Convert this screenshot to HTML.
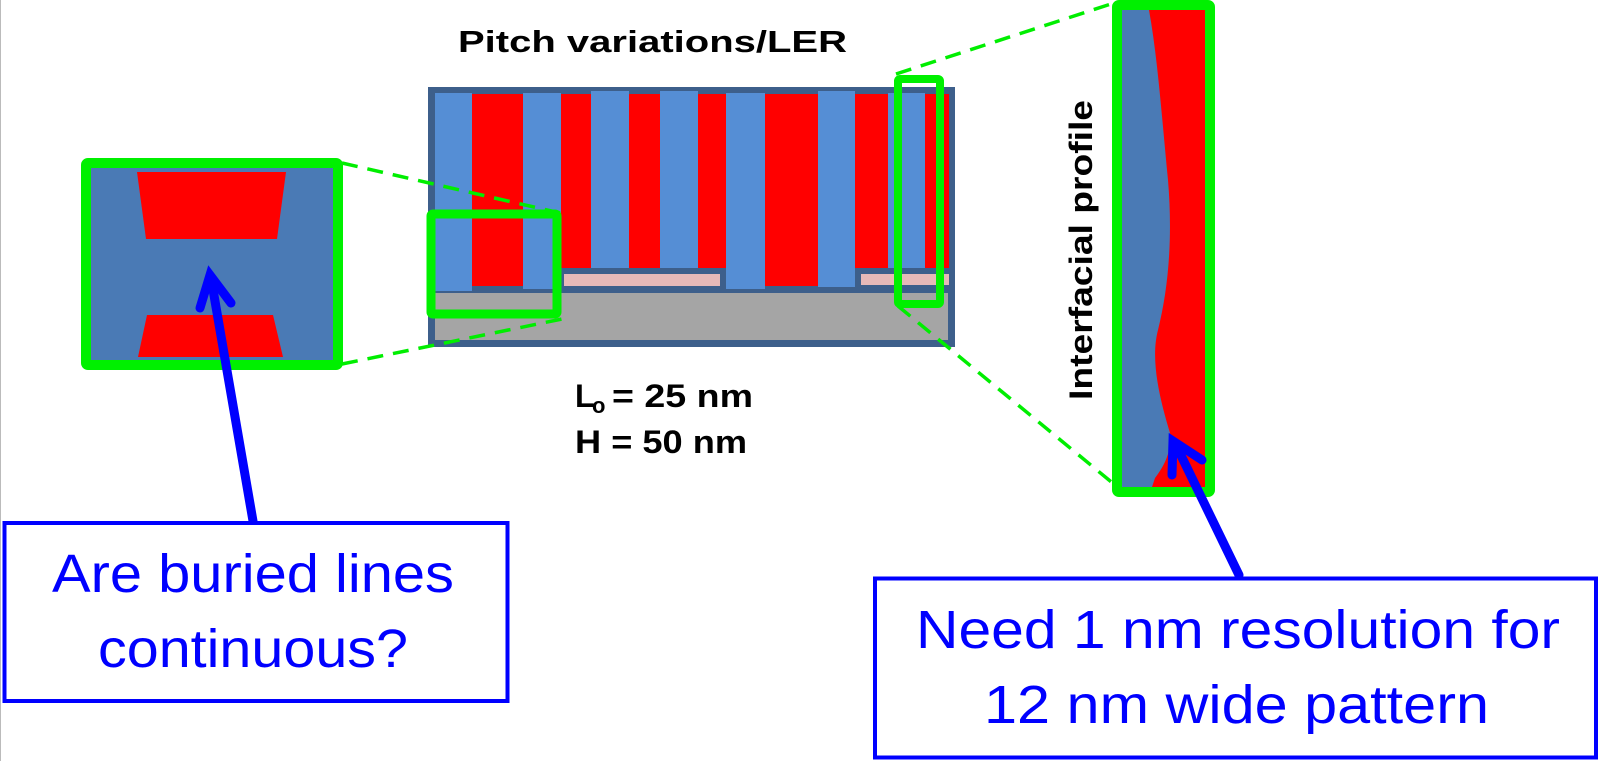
<!DOCTYPE html>
<html><head><meta charset="utf-8"><style>html,body{margin:0;padding:0;background:#fff;}svg{display:block}</style></head>
<body>
<svg width="1600" height="761" viewBox="0 0 1600 761" xmlns="http://www.w3.org/2000/svg">
<rect x="0" y="0" width="1600" height="761" fill="#fff"/>
<line x1="0.5" y1="0" x2="0.5" y2="761" stroke="#bbb" stroke-width="1"/>
<!-- Center diagram -->
<rect x="431" y="90" width="521" height="254" fill="#3d5f8b" stroke="#3d5f8b" stroke-width="6"/>
<rect x="435" y="293" width="513" height="47" fill="#a5a5a5"/>
<g fill="#558ed5">
<rect x="435" y="93" width="37" height="198"/>
<rect x="523" y="93" width="38" height="196"/>
<rect x="591" y="91" width="38" height="177"/>
<rect x="660" y="91" width="38" height="177"/>
<rect x="726" y="93" width="39" height="196"/>
<rect x="818" y="91" width="37" height="196"/>
<rect x="888" y="93" width="37" height="175"/>
</g>
<g fill="#ff0000">
<rect x="472" y="94" width="51" height="192"/>
<rect x="561" y="94" width="30" height="174"/>
<rect x="629" y="94" width="31" height="174"/>
<rect x="698" y="94" width="28" height="174"/>
<rect x="765" y="94" width="53" height="192"/>
<rect x="855" y="94" width="33" height="174"/>
<rect x="925" y="94" width="24" height="174"/>
</g>
<rect x="564" y="274" width="156" height="12" fill="#e6b9b8"/>
<rect x="861" y="274" width="88" height="11" fill="#e6b9b8"/>
<!-- dashed connectors -->
<g stroke="#00ee00" stroke-width="3.5" stroke-dasharray="16,10" fill="none">
<line x1="342" y1="163" x2="560" y2="213"/>
<line x1="342" y1="364" x2="562" y2="319"/>
<line x1="896" y1="74" x2="1114" y2="3"/>
<line x1="898" y1="306" x2="1115" y2="485"/>
</g>
<!-- green boxes in center -->
<rect x="431" y="214" width="126" height="100" fill="none" stroke="#00f000" stroke-width="9" rx="2"/>
<rect x="898" y="79" width="42" height="225" fill="none" stroke="#00f000" stroke-width="8" rx="2"/>
<!-- Left panel -->
<rect x="86" y="163" width="252" height="202" fill="#4a7ab5" stroke="#00f000" stroke-width="10" rx="2"/>
<polygon points="137,172 286,172 277,239 146,239" fill="#ff0000"/>
<polygon points="147,315 273,315 283,357 138,357" fill="#ff0000"/>
<!-- Right panel -->
<rect x="1117" y="5" width="93" height="487" fill="#4a7ab5" stroke="#00f000" stroke-width="10" rx="2"/>
<path d="M1149,10 C1158,60 1162,120 1168,180 C1173,240 1168,290 1158,330 C1150,360 1160,400 1170,433 C1172,450 1165,465 1155,478 L1152,487 L1205,487 L1205,10 Z" fill="#ff0000"/>
<!-- Blue arrows -->
<g stroke="#0000ff" stroke-width="9" stroke-linecap="round" fill="none">
<line x1="253" y1="521" x2="211" y2="278"/>
<polyline points="200,308 210,275 231,303"/>
<line x1="1239" y1="575" x2="1175" y2="443"/>
<polyline points="1172,475 1173,441 1202,460"/>
</g>
<!-- Callout boxes -->
<rect x="4.5" y="523" width="503" height="178" fill="#fff" stroke="#0000ff" stroke-width="4"/>
<rect x="875" y="578.5" width="721" height="179" fill="#fff" stroke="#0000ff" stroke-width="4"/>
<g font-family="Liberation Sans, sans-serif" fill="#0000ff" font-size="54">
<text x="52" y="592" textLength="402" lengthAdjust="spacingAndGlyphs">Are buried lines</text>
<text x="98" y="667" textLength="310" lengthAdjust="spacingAndGlyphs">continuous?</text>
<text x="916" y="648" textLength="644" lengthAdjust="spacingAndGlyphs">Need 1 nm resolution for</text>
<text x="984" y="723" textLength="505" lengthAdjust="spacingAndGlyphs">12 nm wide pattern</text>
</g>
<!-- Labels -->
<g font-family="Liberation Sans, sans-serif" font-weight="bold" fill="#000">
<text x="458" y="52" font-size="31" textLength="389" lengthAdjust="spacingAndGlyphs">Pitch variations/LER</text>
<text x="575" y="407" font-size="32">L</text>
<text x="592" y="413" font-size="22">o</text>
<text x="612" y="407" font-size="32" textLength="141" lengthAdjust="spacingAndGlyphs">= 25 nm</text>
<text x="575" y="453" font-size="32" textLength="172" lengthAdjust="spacingAndGlyphs">H = 50 nm</text>
<text transform="translate(1092,400) rotate(-90)" x="0" y="0" font-size="32" textLength="300" lengthAdjust="spacingAndGlyphs">Interfacial profile</text>
</g>
</svg>
</body></html>
